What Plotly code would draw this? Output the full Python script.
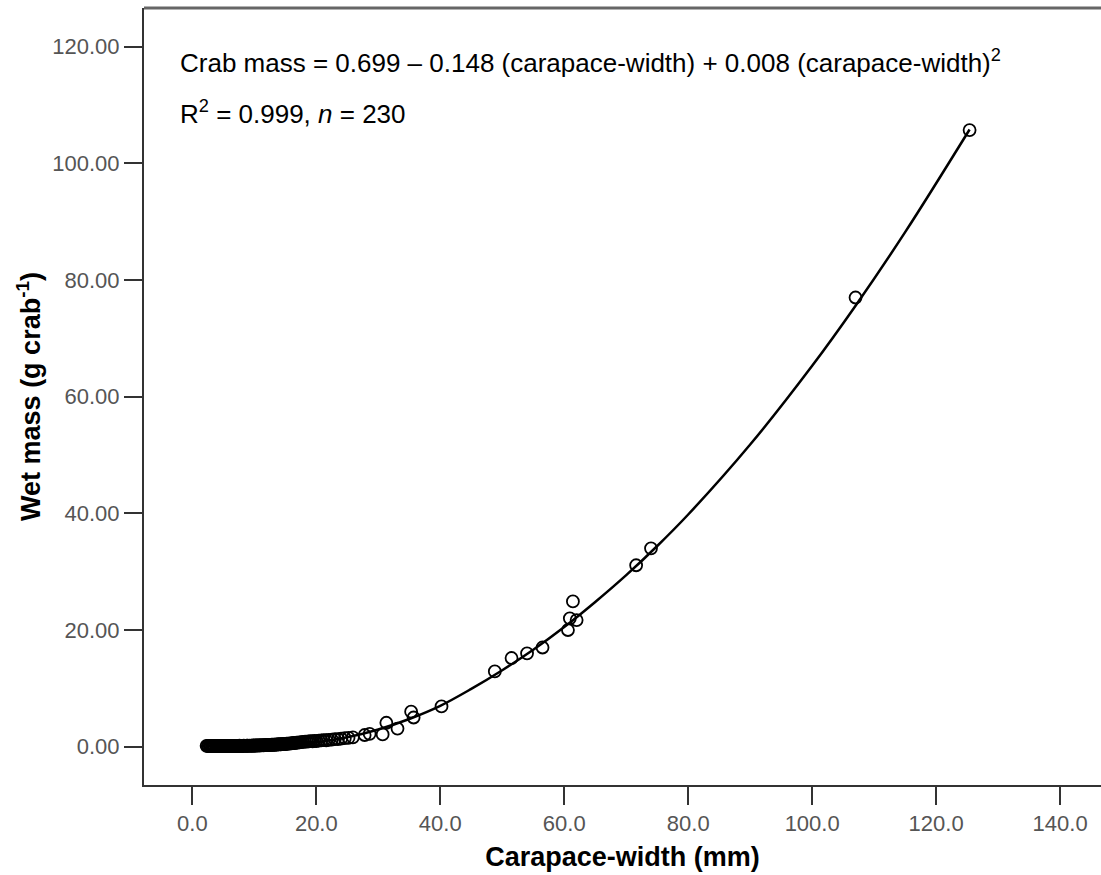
import plotly.graph_objects as go

# ---- scatter data: carapace width (mm) and wet mass (g crab^-1) ----
small_width = [2.3, 2.5, 2.6, 2.8, 2.9, 3.0, 3.2, 3.3, 3.5, 3.6, 3.8, 3.9, 4.0, 4.2, 4.3,
               4.5, 4.6, 4.8, 4.9, 5.0, 5.2, 5.3, 5.5, 5.6, 5.8, 5.9, 6.0, 6.2, 6.3, 6.5,
               6.6, 6.8, 6.9, 7.0, 7.2, 7.3, 7.5, 7.6, 7.8, 7.9, 8.0, 8.2, 8.3, 8.5, 8.6,
               8.8, 8.9, 9.0, 9.2, 9.3, 9.5, 9.6, 9.8, 9.9, 10.0, 10.2, 10.3, 10.5, 10.6,
               10.8, 10.9, 11.0, 11.2, 11.3, 11.5, 11.6, 11.8, 11.9, 12.0, 12.2, 12.3, 12.5,
               12.6, 12.8, 12.9, 13.0, 13.2, 13.3, 13.5, 13.6, 13.8, 13.9, 14.0, 14.2, 14.3,
               14.5, 14.6, 14.8, 14.9, 15.0, 15.2, 15.4, 15.6, 15.8, 16.0, 16.2, 16.4, 16.6,
               16.8, 17.0, 17.3, 17.6, 17.9, 18.2, 18.5, 18.8, 19.1, 19.4, 19.7, 20.0, 20.4,
               20.8, 21.2, 21.6, 22.0, 22.5, 23.0, 23.5, 24.0, 24.6, 25.2, 25.9]
small_mass = [0.15, 0.12, 0.10, 0.14, 0.08, 0.12, 0.10, 0.14, 0.09, 0.12, 0.10, 0.15, 0.11, 0.09, 0.13,
              0.10, 0.12, 0.14, 0.09, 0.11, 0.13, 0.10, 0.12, 0.15, 0.11, 0.09, 0.13, 0.12, 0.10, 0.14,
              0.12, 0.11, 0.15, 0.13, 0.10, 0.14, 0.12, 0.16, 0.11, 0.13, 0.15, 0.12, 0.17, 0.14, 0.13,
              0.16, 0.18, 0.14, 0.17, 0.15, 0.19, 0.16, 0.18, 0.20, 0.17, 0.21, 0.19, 0.22, 0.20,
              0.23, 0.21, 0.24, 0.22, 0.26, 0.24, 0.27, 0.25, 0.28, 0.27, 0.30, 0.28, 0.31,
              0.30, 0.33, 0.31, 0.34, 0.33, 0.36, 0.35, 0.37, 0.39, 0.38, 0.40, 0.42, 0.41,
              0.44, 0.43, 0.46, 0.45, 0.48, 0.50, 0.52, 0.54, 0.56, 0.58, 0.61, 0.63, 0.66,
              0.68, 0.70, 0.74, 0.78, 0.82, 0.85, 0.88, 0.92, 0.95, 0.90, 1.00, 0.96, 1.05,
              1.08, 1.12, 1.10, 1.18, 1.22, 1.30, 1.28, 1.38, 1.45, 1.52, 1.60]
large_width = [27.8, 28.6, 30.7, 31.3, 33.1, 35.3, 35.7, 40.2, 48.8, 51.5, 54.0, 56.5,
               60.6, 60.9, 61.4, 62.0, 71.6, 74.0, 107.0, 125.4]
large_mass = [2.0, 2.2, 2.1, 4.1, 3.1, 6.0, 5.0, 6.9, 12.9, 15.2, 16.0, 17.0,
              20.0, 22.0, 24.9, 21.7, 31.1, 34.0, 77.0, 105.7]

# ---- fitted quadratic curve at nodes ----
fit_width = [2.3, 10.0, 20.0, 25.0, 30.0, 35.0, 40.0, 45.0, 50.0, 55.0, 60.0, 65.0,
             70.0, 75.0, 80.0, 90.0, 100.0, 107.0, 115.0, 125.4]
fit_mass = [0.2, 0.15, 0.75, 1.6, 2.95, 4.75, 7.0, 9.9, 13.1, 16.6, 20.5, 24.8,
            29.4, 34.4, 39.8, 51.8, 65.3, 75.6, 88.2, 105.8]

# ---- axis ticks ----
x_ticks = [0, 20, 40, 60, 80, 100, 120, 140]
x_labels = ["0.0", "20.0", "40.0", "60.0", "80.0", "100.0", "120.0", "140.0"]
y_ticks = [0, 20, 40, 60, 80, 100, 120]
y_labels = ["0.00", "20.00", "40.00", "60.00", "80.00", "100.00", "120.00"]

W, H = 1101, 875
ML, MT, MB, MR = 144, 8, 90, 0

fig = go.Figure()
fig.add_trace(go.Scatter(
    x=fit_width, y=fit_mass, mode="lines", line=dict(color="black", width=2.5, shape="spline"),
    hoverinfo="skip", showlegend=False))
fig.add_trace(go.Scatter(
    x=small_width + large_width, y=small_mass + large_mass, mode="markers",
    marker=dict(symbol="circle-open", size=12, color="black", line=dict(width=1.8, color="black")),
    showlegend=False))

FONT = "Liberation Sans, Arial, sans-serif"
tick_font = dict(family=FONT, size=22, color="#555555")
title_font = dict(family=FONT, size=27, color="black")

fig.update_layout(
    width=W, height=H,
    margin=dict(l=ML, r=MR, t=MT, b=MB),
    paper_bgcolor="white", plot_bgcolor="white",
    xaxis=dict(range=[-7.8, 146.6], tickmode="array", tickvals=x_ticks, ticktext=x_labels,
               ticks="outside", ticklen=18, tickwidth=2, tickcolor="#333333",
               showline=True, linecolor="#333333", linewidth=2, showgrid=False, zeroline=False,
               tickfont=tick_font,
               title=dict(text="<b>Carapace-width (mm)</b>", font=title_font, standoff=12)),
    yaxis=dict(range=[-6.57, 126.63], tickmode="array", tickvals=y_ticks, ticktext=y_labels,
               ticks="outside", ticklen=18, tickwidth=2, tickcolor="#333333",
               showline=True, linecolor="#333333", linewidth=2, showgrid=False, zeroline=False,
               tickfont=tick_font,
               title=dict(text="<b>Wet mass (g crab<sup>-1</sup>)</b>", font=title_font, standoff=4)),
    shapes=[dict(type="line", xref="paper", yref="paper", x0=0, x1=1, y0=1, y1=1,
                 line=dict(color="#666666", width=3))],
    annotations=[
        dict(xref="paper", yref="paper", x=(178 - ML) / (W - ML - MR), y=(H - MB - 62) / (H - MB - MT),
             xanchor="left", yanchor="middle", showarrow=False,
             text="Crab mass = 0.699 \u2013 0.148 (carapace-width) + 0.008 (carapace-width)<sup>2</sup>",
             font=dict(family=FONT, size=26, color="black")),
        dict(xref="paper", yref="paper", x=(178 - ML) / (W - ML - MR), y=(H - MB - 112) / (H - MB - MT),
             xanchor="left", yanchor="middle", showarrow=False,
             text="R<sup>2</sup> = 0.999, <i>n</i> = 230",
             font=dict(family=FONT, size=26, color="black")),
    ],
)

fig.write_html("out.html")
